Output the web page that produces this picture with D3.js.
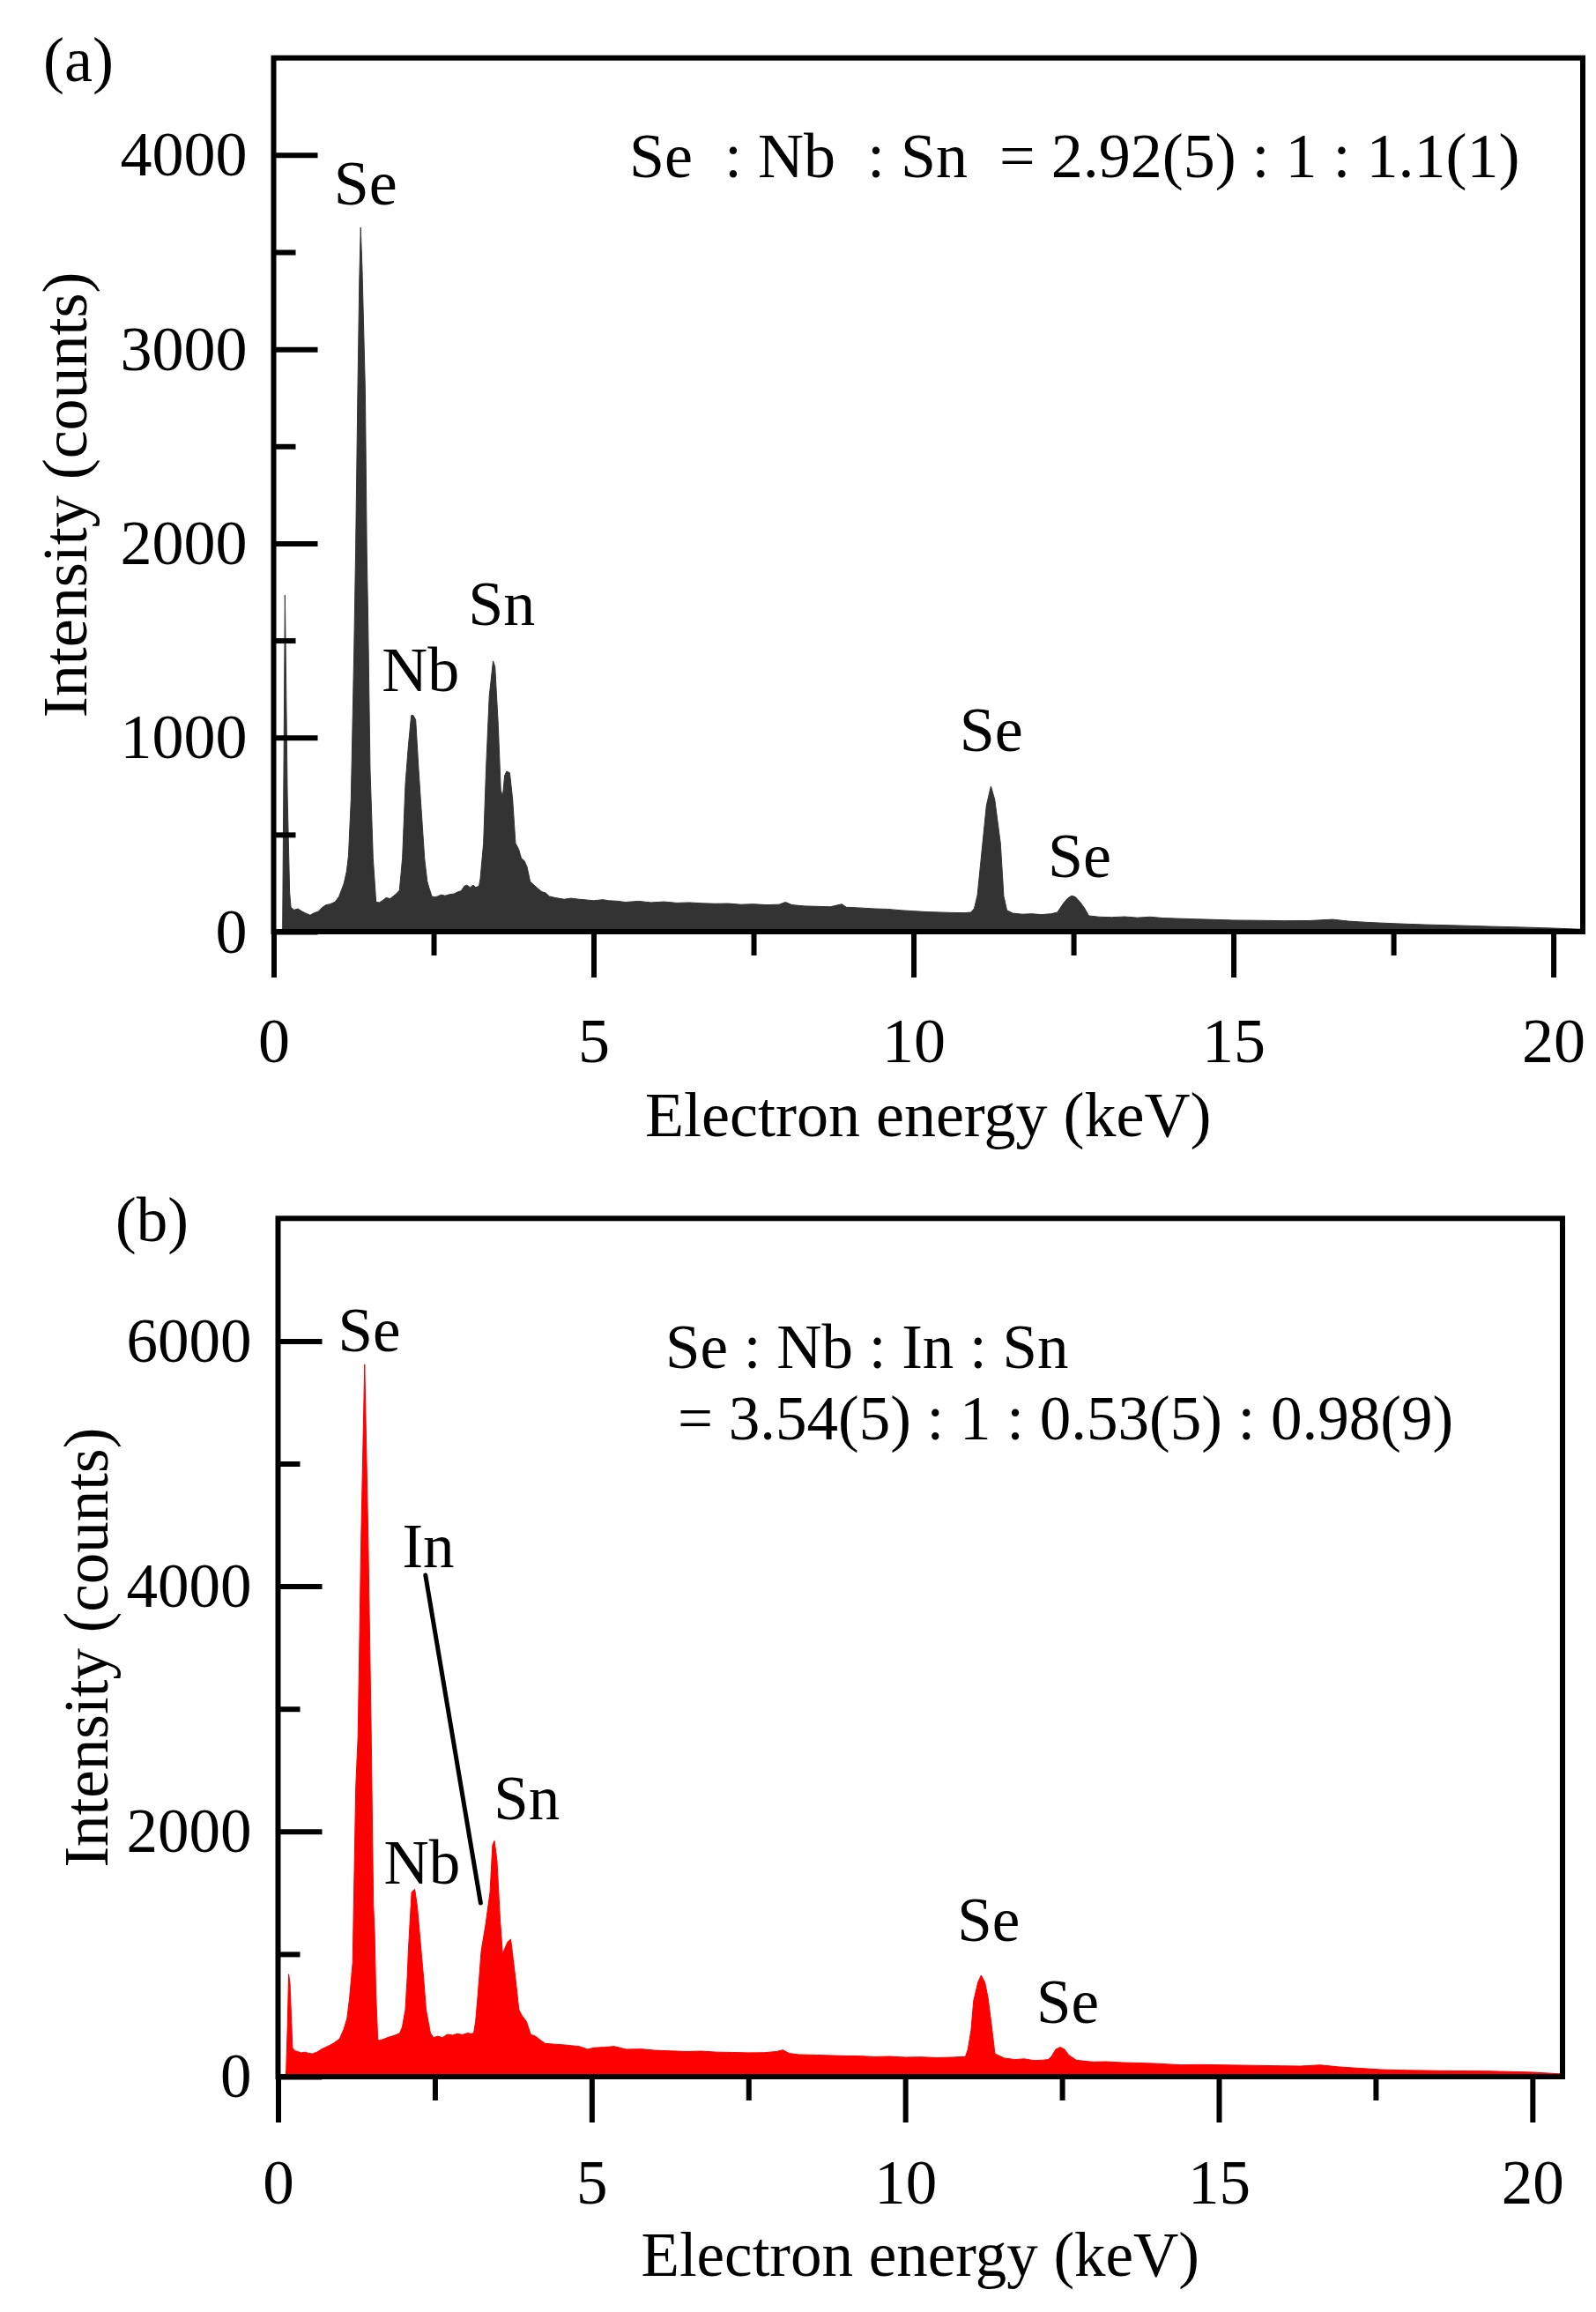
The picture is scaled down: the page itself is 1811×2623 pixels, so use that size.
<!DOCTYPE html>
<html>
<head>
<meta charset="UTF-8"/>
<style>
  body { margin: 0; background: #fff; }
  text { font-family: "Liberation Serif", "Times New Roman", serif; }
</style>
</head>
<body>
<script src="https://d3js.org/d3.v7.min.js"></script>
<script>
// ---- data ----
// panel (a): Se-Nb-Sn, energy (keV) and counts
const energyA = [0, 0.13, 0.14, 0.16, 0.177, 0.19, 0.215, 0.25, 0.27, 0.32, 0.38, 0.44, 0.50, 0.57, 0.63, 0.70, 0.76, 0.82, 0.88, 0.96,
  1.02, 1.06, 1.10, 1.14, 1.17, 1.21, 1.256, 1.282, 1.314, 1.34, 1.36, 1.385, 1.432, 1.456, 1.476, 1.508, 1.554, 1.60, 1.65, 1.70,
  1.76, 1.82, 1.88, 1.93, 1.967, 2.013, 2.059, 2.105, 2.151, 2.183, 2.22, 2.266, 2.312, 2.358, 2.40, 2.427, 2.472, 2.52, 2.56, 2.62,
  2.68, 2.75, 2.82, 2.88, 2.93, 2.98, 3.02, 3.07, 3.12, 3.16, 3.21, 3.23, 3.28, 3.32, 3.37, 3.43, 3.46, 3.51, 3.55, 3.58,
  3.61, 3.64, 3.69, 3.735, 3.78, 3.83, 3.87, 3.92, 3.96, 4.01, 4.06, 4.12, 4.19, 4.25, 4.31, 4.40, 4.54, 4.65, 4.77, 4.9,
  5.0, 5.15, 5.23, 5.35, 5.5, 5.7, 5.9, 6.1, 6.3, 6.5, 6.7, 6.9, 7.1, 7.3, 7.5, 7.7, 7.9, 8.0, 8.1, 8.3,
  8.5, 8.7, 8.88, 8.95, 9.2, 9.4, 9.6, 9.8, 10.0, 10.2, 10.4, 10.6, 10.8, 10.9, 10.95, 11.0, 11.08, 11.14, 11.21, 11.27,
  11.36, 11.41, 11.46, 11.55, 11.7, 11.85, 12.0, 12.15, 12.25, 12.34, 12.41, 12.47, 12.53, 12.6, 12.67, 12.74, 12.9, 13.1, 13.3, 13.5,
  13.7, 13.9, 14.1, 14.4, 14.7, 15.0, 15.4, 15.8, 16.2, 16.55, 16.8, 17.1, 17.5, 18.0, 18.5, 19.0, 19.5, 20.0, 20.46];
const countsA = [10, 10, 20, 900, 1734, 1400, 700, 200, 125, 112, 118, 105, 95, 85, 96, 104, 125, 138, 142, 153,
  180, 215, 250, 310, 390, 682, 1439, 1961, 2772, 3350, 3627, 3400, 2772, 1961, 1590, 833, 379, 153, 150, 160,
  175, 170, 185, 200, 213, 379, 758, 955, 1114, 1114, 1091, 834, 607, 379, 260, 228, 182, 178, 182, 190,
  185, 192, 195, 205, 210, 235, 240, 228, 240, 228, 235, 273, 455, 834, 1212, 1394, 1364, 1061, 728, 697,
  803, 826, 818, 682, 455, 425, 379, 364, 334, 258, 243, 225, 206, 200, 182, 175, 167, 172, 167, 163,
  160, 165, 160, 158, 152, 157, 150, 154, 148, 150, 146, 144, 145, 140, 142, 138, 140, 152, 138, 132,
  130, 128, 142, 126, 122, 118, 116, 110, 106, 102, 100, 98, 97, 100, 120, 190, 454, 650, 749, 680,
  454, 183, 110, 95, 90, 92, 88, 92, 100, 145, 172, 185, 179, 154, 123, 82, 76, 74, 77, 72,
  76, 70, 68, 65, 62, 59, 58, 56, 57, 63, 54, 48, 42, 36, 32, 27, 23, 18, 12];

// panel (b): Se-Nb-In-Sn
const energyB = [0, 0.12, 0.13, 0.15, 0.17, 0.19, 0.21, 0.23, 0.27, 0.31, 0.37, 0.43, 0.49, 0.55, 0.62, 0.69, 0.76, 0.82, 0.88, 0.93,
  0.98, 1.05, 1.10, 1.14, 1.19, 1.24, 1.275, 1.324, 1.381, 1.437, 1.484, 1.52, 1.54, 1.56, 1.59, 1.61, 1.68, 1.75, 1.82, 1.89,
  1.94, 1.98, 2.03, 2.06, 2.08, 2.13, 2.18, 2.22, 2.27, 2.32, 2.36, 2.43, 2.48, 2.55, 2.62, 2.70, 2.78, 2.86, 2.94, 3.02,
  3.08, 3.12, 3.15, 3.19, 3.24, 3.31, 3.38, 3.42, 3.45, 3.49, 3.54, 3.58, 3.62, 3.66, 3.71, 3.75, 3.80, 3.84, 3.89, 3.96,
  4.03, 4.10, 4.18, 4.26, 4.4, 4.57, 4.7, 4.8, 4.94, 5.03, 5.2, 5.36, 5.55, 5.8, 6.0, 6.25, 6.5, 6.75, 7.0, 7.25,
  7.5, 7.75, 7.95, 8.05, 8.15, 8.3, 8.6, 9.0, 9.3, 9.5, 9.75, 10.0, 10.25, 10.5, 10.75, 10.96, 11.0, 11.05, 11.09, 11.16,
  11.21, 11.27, 11.32, 11.38, 11.43, 11.58, 11.75, 11.9, 12.05, 12.2, 12.28, 12.33, 12.40, 12.47, 12.54, 12.61, 12.73, 12.99, 13.2, 13.46,
  13.7, 13.95, 14.4, 14.7, 15.0, 15.5, 16.0, 16.3, 16.62, 16.9, 17.2, 17.6, 18.0, 18.5, 19.0, 19.3, 19.7, 20.0, 20.48];
const countsB = [8, 8, 60, 400, 836, 760, 500, 235, 211, 205, 195, 200, 190, 187, 200, 223, 240, 255, 271, 290,
  307, 390, 474, 642, 930, 2367, 2778, 4382, 5810, 4382, 2847, 1409, 1172, 690, 307, 295, 305, 320, 330, 343,
  355, 403, 546, 810, 1050, 1505, 1529, 1385, 1098, 810, 546, 355, 319, 330, 318, 345, 338, 350, 342, 355,
  350, 355, 451, 690, 1026, 1242, 1505, 1889, 1924, 1768, 1289, 1001, 1050, 1098, 1121, 954, 738, 546, 498, 451,
  343, 331, 300, 271, 265, 259, 252, 247, 223, 235, 240, 247, 223, 225, 215, 210, 205, 208, 200, 198,
  195, 196, 205, 218, 190, 180, 176, 170, 168, 162, 165, 158, 160, 155, 158, 163, 223, 379, 618, 770,
  827, 770, 642, 403, 187, 151, 140, 145, 132, 135, 140, 163, 223, 240, 223, 175, 134, 120, 122, 115,
  112, 108, 96, 98, 96, 92, 88, 86, 95, 80, 70, 57, 52, 48, 46, 45, 40, 36, 22];

// ticks
const xMajorTicks = [0, 5, 10, 15, 20];
const xMinorTicks = [2.5, 7.5, 12.5, 17.5];
const yMajorTicksA = [0, 1000, 2000, 3000, 4000];
const yMinorTicksA = [500, 1500, 2500, 3500];
const yMajorTicksB = [0, 2000, 4000, 6000];
const yMinorTicksB = [1000, 3000, 5000];

// peak labels: name, energy (keV) and counts of the label's left baseline point
const peakNamesA = ["Se", "Nb", "Sn", "Se", "Se"];
const peakEnergyA = [0.94, 1.69, 3.04, 10.72, 12.10];
const peakCountsA = [3745, 1239, 1580, 930, 281];
const peakNamesB = ["Se", "In", "Nb", "Sn", "Se", "Se"];
const peakEnergyB = [0.955, 1.98, 1.685, 3.44, 10.83, 12.09];
const peakCountsB = [5917, 4155, 1571, 2099, 1107, 435];
// pointer from "In" label down to the In shoulder (energy, counts)
const inPointerE = [2.35, 3.23];
const inPointerC = [4091, 1416];

const ratioA = ["Se  : Nb  : Sn  = 2.92(5) : 1 : 1.1(1)"];
const ratioB = ["Se : Nb : In : Sn", "= 3.54(5) : 1 : 0.53(5) : 0.98(9)"];

// ---- drawing ----
let svg = d3.select("body").append("svg")
    .attr("width", 1811)
    .attr("height", 2623);
svg.append("rect").attr("width", 1811).attr("height", 2623).attr("fill", "#fff");

function drawPanel(p) {
    let x = d3.scaleLinear().domain([0, p.xMax]).range([p.left, p.right]);
    let y = d3.scaleLinear().domain([0, p.yMax]).range([p.bottom, p.top]);
    let g = svg.append("g");

    let clipId = "clip" + p.id;
    g.append("clipPath").attr("id", clipId)
        .append("rect")
        .attr("x", p.left).attr("y", p.top)
        .attr("width", p.right - p.left).attr("height", p.bottom - p.top);

    let points = p.energy.map(function(e, i) { return [e, p.counts[i]]; });
    let area = d3.area()
        .x(function(d) { return x(d[0]); })
        .y0(y(0))
        .y1(function(d) { return y(d[1]); });
    g.append("path")
        .datum(points)
        .attr("clip-path", "url(#" + clipId + ")")
        .attr("d", area)
        .attr("fill", p.color)
        .attr("stroke", p.color)
        .attr("stroke-width", 1);

    // x axis: ticks outward (down)
    let xMaj = g.append("g")
        .attr("transform", "translate(0," + p.bottom + ")")
        .call(d3.axisBottom(x).tickValues(xMajorTicks).tickSize(52).tickFormat(d3.format("d")));
    xMaj.selectAll(".tick text").attr("y", p.xLabelOffset).attr("dy", null);
    let xMin = g.append("g")
        .attr("transform", "translate(0," + p.bottom + ")")
        .call(d3.axisBottom(x).tickValues(xMinorTicks).tickSize(27).tickFormat(""));

    // y axis: ticks inward (right), labels to the left
    let yMaj = g.append("g")
        .attr("transform", "translate(" + p.left + ",0)")
        .call(d3.axisLeft(y).tickValues(p.yMajor).tickSizeInner(-50).tickSizeOuter(0).tickPadding(30).tickFormat(d3.format("d")));
    let yMin = g.append("g")
        .attr("transform", "translate(" + p.left + ",0)")
        .call(d3.axisLeft(y).tickValues(p.yMinor).tickSizeInner(-25).tickSizeOuter(0).tickFormat(""));

    [xMaj, xMin, yMaj, yMin].forEach(function(a) {
        a.select(".domain").remove();
        a.attr("font-family", null).attr("font-size", p.fontSize);
        a.selectAll(".tick line").attr("stroke", "#000").attr("stroke-width", 6);
        a.selectAll(".tick text").attr("fill", "#000");
    });

    // frame
    g.append("rect")
        .attr("x", p.left).attr("y", p.top)
        .attr("width", p.right - p.left).attr("height", p.bottom - p.top)
        .attr("fill", "none")
        .attr("stroke", "#000")
        .attr("stroke-width", 6);

    // axis titles
    g.append("text")
        .attr("x", (p.left + p.right) / 2)
        .attr("y", p.xTitleY)
        .attr("text-anchor", "middle")
        .attr("font-size", p.fontSize)
        .text("Electron energy (keV)");
    g.append("text")
        .attr("transform", "translate(" + p.yTitleX + "," + ((p.top + p.bottom) / 2) + ") rotate(-90)")
        .attr("text-anchor", "middle")
        .attr("font-size", p.fontSize)
        .text("Intensity (counts)");

    // panel letter
    g.append("text")
        .attr("x", p.letterX).attr("y", p.letterY)
        .attr("font-size", p.fontSize)
        .text(p.letter);

    // peak labels
    g.selectAll(".peak")
        .data(p.peakNames)
        .enter()
        .append("text")
        .attr("class", "peak")
        .attr("x", function(d, i) { return x(p.peakE[i]); })
        .attr("y", function(d, i) { return y(p.peakC[i]); })
        .attr("font-size", p.fontSize)
        .text(function(d) { return d; });

    // composition ratio text
    g.selectAll(".ratio")
        .data(p.ratio)
        .enter()
        .append("text")
        .attr("class", "ratio")
        .attr("xml:space", "preserve")
        .style("white-space", "pre")
        .attr("x", function(d, i) { return p.ratioX[i]; })
        .attr("y", function(d, i) { return p.ratioY[i]; })
        .attr("font-size", p.fontSize)
        .text(function(d) { return d; });

    return { x: x, y: y, g: g };
}

drawPanel({
    id: "a", letter: "(a)", letterX: 49, letterY: 92,
    left: 310.5, right: 1796, top: 65.7, bottom: 1057,
    xMax: 20.46, yMax: 4500,
    energy: energyA, counts: countsA, color: "#333333",
    yMajor: yMajorTicksA, yMinor: yMinorTicksA,
    fontSize: 72, xLabelOffset: 148, xTitleY: 1289, yTitleX: 98,
    peakNames: peakNamesA, peakE: peakEnergyA, peakC: peakCountsA,
    ratio: ratioA, ratioX: [714], ratioY: [201]
});

let pb = drawPanel({
    id: "b", letter: "(b)", letterX: 131, letterY: 1408,
    left: 315.5, right: 1773, top: 1382.3, bottom: 2356,
    xMax: 20.48, yMax: 7000,
    energy: energyB, counts: countsB, color: "#ff0000",
    yMajor: yMajorTicksB, yMinor: yMinorTicksB,
    fontSize: 71, xLabelOffset: 144, xTitleY: 2582, yTitleX: 122,
    peakNames: peakNamesB, peakE: peakEnergyB, peakC: peakCountsB,
    ratio: ratioB, ratioX: [755, 769], ratioY: [1552, 1633]
});

// pointer line for the In peak
pb.g.append("line")
    .attr("x1", pb.x(inPointerE[0])).attr("y1", pb.y(inPointerC[0]))
    .attr("x2", pb.x(inPointerE[1])).attr("y2", pb.y(inPointerC[1]))
    .attr("stroke", "#000")
    .attr("stroke-width", 5)
    .attr("stroke-linecap", "round");
</script>
</body>
</html>
